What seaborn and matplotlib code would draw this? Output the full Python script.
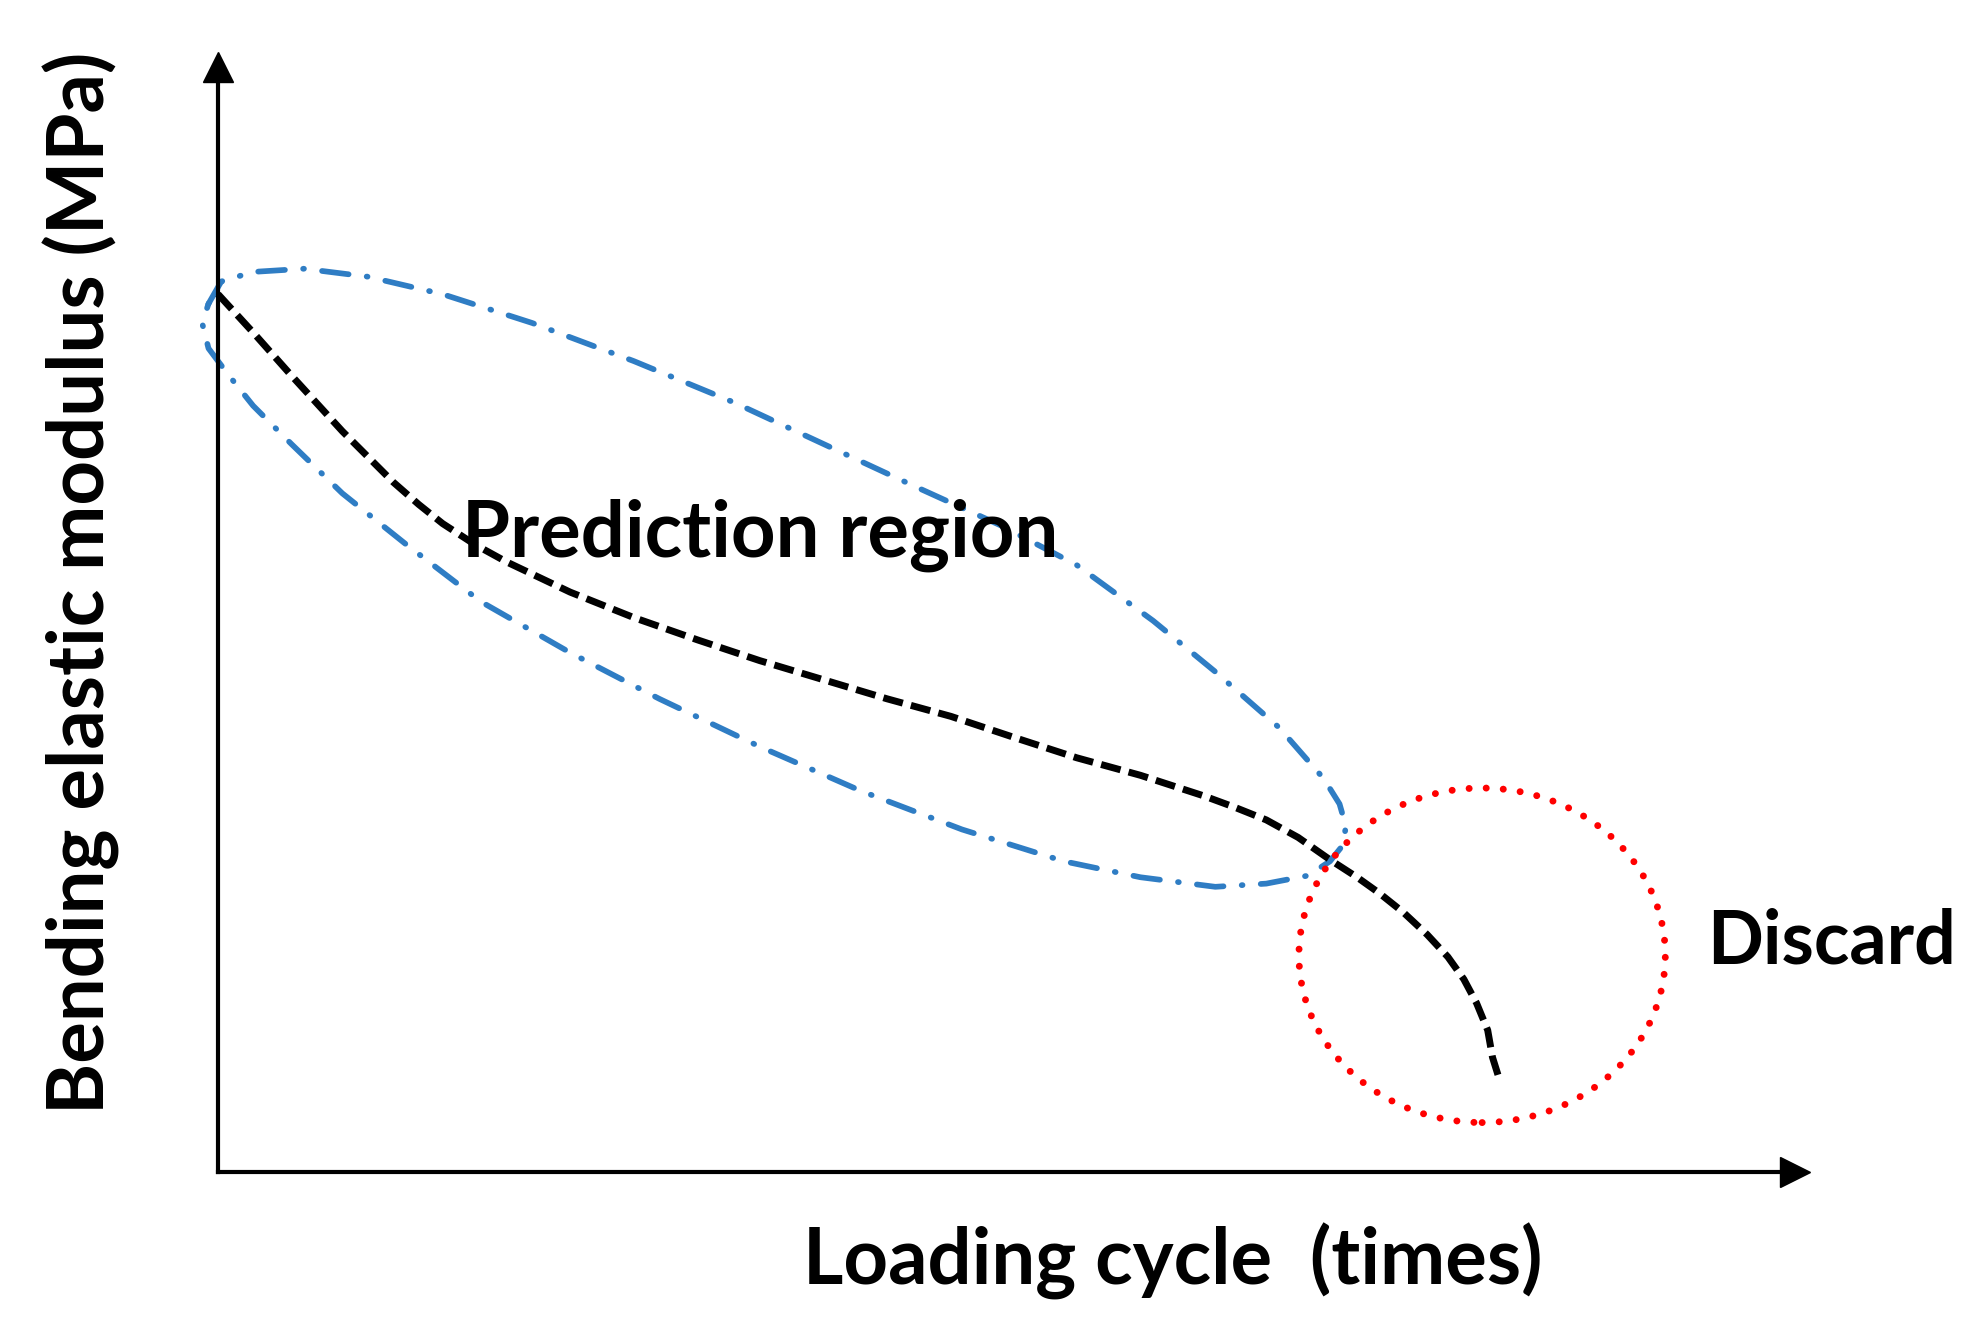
import seaborn as sns
import matplotlib.pyplot as plt
from matplotlib.patches import Ellipse

# black dashed degradation curve (loading cycle vs. bending elastic modulus, arbitrary units)
cycle = [0.0, 2.2, 4.6, 7.8, 11.0, 12.6, 14.1, 16.1, 18.1, 22.1, 26.1, 30.1, 34.0, 38.0,
         42.0, 46.0, 49.9, 53.9, 57.9, 61.9, 63.8, 65.8, 67.8, 69.8, 71.5, 72.9, 74.4,
         75.9, 77.2, 78.2, 79.0, 79.7, 80.0, 80.5]
modulus = [55.1, 52.7, 50.0, 46.5, 43.3, 41.9, 40.7, 39.4, 38.3, 36.4, 34.8, 33.4, 32.1, 30.9,
           29.7, 28.6, 27.3, 26.0, 24.9, 23.6, 22.9, 22.1, 21.0, 19.6, 18.5, 17.5, 16.3,
           14.9, 13.5, 12.1, 10.6, 8.9, 7.2, 5.6]

# outline of the prediction region (blue dash-dot loop)
region_x = [-0.6, 0.2, 2.2, 5.4, 9.4, 14.1, 19.7, 26.1, 32.4, 38.0, 43.6, 49.1, 53.9,
            58.7, 62.6, 66.6, 69.4, 70.4, 70.8, 70.6, 69.8, 68.4, 65.8, 62.6, 57.9, 53.1,
            46.7, 40.4, 34.0, 27.7, 22.1, 16.5, 11.8, 7.8, 4.6, 2.2, 0.6, -0.6, -1.0, -0.6]
region_y = [54.5, 55.9, 56.5, 56.7, 56.2, 55.1, 53.3, 50.9, 48.3, 45.7, 43.1, 40.6, 38.1,
            34.6, 31.4, 27.9, 24.7, 23.1, 21.7, 20.5, 19.5, 18.6, 18.1, 17.9, 18.5, 19.5,
            21.5, 23.9, 26.7, 29.7, 32.6, 35.8, 39.4, 42.6, 45.7, 48.1, 50.1, 51.7, 53.3, 54.5]

# discard zone (red dotted ring)
discard_center = (79.35, 13.6)
discard_width = 23.0
discard_height = 21.0

x_label = "Loading cycle  (times)"
y_label = "Bending elastic modulus (MPa)"
region_text = "Prediction region"
discard_text = "Discard"

sns.set_style("white")
plt.rcParams['font.family'] = ['Lato', 'DejaVu Sans']
plt.rcParams['text.color'] = 'black'
plt.rcParams['axes.labelcolor'] = 'black'

fig = plt.figure(figsize=(19.86, 13.22), dpi=100)
ax = fig.add_axes([0.1098, 0.1135, 0.7941, 0.8359])
ax.set_xlim(0, 99.0)
ax.set_ylim(0, 69.37)

# prediction region loop
sns.lineplot(x=region_x, y=region_y, sort=False, estimator=None, color="#2F7DC4", lw=4.1, ax=ax)
blue = ax.lines[-1]
blue.set_linestyle((0, (4.7, 3.2, 0.15, 3.2)))
blue.set_dash_capstyle("round")
blue.set_clip_on(False)

# discard ring
ring = Ellipse(discard_center, discard_width, discard_height, fill=False, edgecolor="red",
               lw=5.0, linestyle=(0, (0.01, 2.45)), capstyle="round", clip_on=False, zorder=2.5)
ax.add_patch(ring)

# main curve
sns.lineplot(x=cycle, y=modulus, sort=False, estimator=None, color="black", lw=5.0, ax=ax)
curve = ax.lines[-1]
curve.set_linestyle((0, (2.9, 1.2)))
curve.set_zorder(2.8)
curve.set_clip_on(False)

ax.text(15.3, 38.6, region_text, fontsize=56, fontweight="bold", va="baseline", ha="left")
ax.text(93.5, 13.1, discard_text, fontsize=53, fontweight="bold", va="baseline", ha="left")

# axes drawn as arrows
sns.despine(ax=ax)
for side in ["left", "bottom"]:
    ax.spines[side].set_linewidth(3)
    ax.spines[side].set_color("black")
ax.set_xticks([])
ax.set_yticks([])
ax.plot(1, 0, marker=">", ms=22, color="black", transform=ax.transAxes, clip_on=False)
ax.plot(0, 1, marker="^", ms=22, color="black", transform=ax.transAxes, clip_on=False)

ax.set_xlabel(x_label, fontsize=56, fontweight="bold", ha="center", va="center")
ax.set_ylabel(y_label, fontsize=56, fontweight="bold", ha="center", va="center")
ax.xaxis.set_label_coords(0.6056, -0.081)
ax.yaxis.set_label_coords(-0.0864, 0.533)

fig.savefig("out.png", dpi=100, facecolor="white")
